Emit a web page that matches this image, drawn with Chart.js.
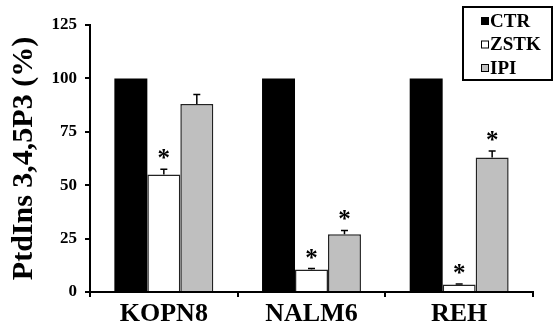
<!DOCTYPE html>
<html>
<head>
<meta charset="utf-8">
<script src="https://cdn.jsdelivr.net/npm/chart.js@4"></script>
<style>
  html, body { margin: 0; padding: 0; background: #fff; }
  #wrap { width: 555px; height: 333px; }
</style>
</head>
<body>
<div id="wrap"><canvas id="ptd-chart"></canvas></div>
<script>
const categories = ['KOPN8', 'NALM6', 'REH'];
const seriesNames = ['CTR', 'ZSTK', 'IPI'];
const ctrValues = [100, 100, 100];
const zstkValues = [55, 10.5, 3.5];
const ipiValues = [88, 27, 63];
const ctrErrors = [0, 0, 0];
const zstkErrors = [2.5, 0.5, 0.3];
const ipiErrors = [4.5, 1.8, 3];
const zstkStars = [true, true, true];
const ipiStars = [false, true, true];
const yTicks = [0, 25, 50, 75, 100, 125];

const serif = "'Liberation Serif', 'Times New Roman', serif";
const colors = ['#000000', '#ffffff', '#bfbfbf'];

// error bars (upward only), asterisks and the boxed legend
const extras = {
    id: 'extras',
    afterDatasetsDraw(chart) {
        const ctx = chart.ctx;
        const y = chart.scales.y;
        const errs = [ctrErrors, zstkErrors, ipiErrors];
        const stars = [null, zstkStars, ipiStars];
        ctx.save();
        ctx.strokeStyle = '#000';
        ctx.lineWidth = 1.5;
        errs.forEach((errList, di) => {
            const meta = chart.getDatasetMeta(di);
            meta.data.forEach((bar, i) => {
                const v = chart.data.datasets[di].data[i];
                let top = y.getPixelForValue(v);
                if (errList[i] > 0) {
                    const yTop = y.getPixelForValue(v + errList[i]);
                    ctx.beginPath();
                    ctx.moveTo(bar.x, top);
                    ctx.lineTo(bar.x, yTop);
                    ctx.moveTo(bar.x - 3.5, yTop);
                    ctx.lineTo(bar.x + 3.5, yTop);
                    ctx.stroke();
                    top = yTop;
                }
                if (stars[di] && stars[di][i]) {
                    ctx.fillStyle = '#000';
                    ctx.font = 'bold 25px ' + serif;
                    ctx.textAlign = 'center';
                    ctx.textBaseline = 'alphabetic';
                    ctx.fillText('*', bar.x, top - 3);
                }
            });
        });
        ctx.restore();
    },
    afterDraw(chart) {
        const ctx = chart.ctx;
        const box = { x: 463, y: 7, w: 89, h: 73 };
        ctx.save();
        ctx.strokeStyle = '#000';
        ctx.lineWidth = 2;
        ctx.strokeRect(box.x, box.y, box.w, box.h);
        ctx.font = 'bold 19px ' + serif;
        ctx.textBaseline = 'middle';
        ctx.textAlign = 'left';
        seriesNames.forEach((name, i) => {
            const cy = box.y + 14 + i * 23.5;
            ctx.fillStyle = colors[i];
            ctx.fillRect(481, cy - 4, 8, 8);
            ctx.strokeStyle = '#000';
            ctx.lineWidth = 1;
            ctx.strokeRect(481.5, cy - 3.5, 7, 7);
            ctx.fillStyle = '#000';
            ctx.fillText(name, 490, cy + 1);
        });
        ctx.restore();
    }
};

new Chart(document.getElementById('ptd-chart'), {
    type: 'bar',
    data: {
        labels: categories,
        datasets: [
            { label: seriesNames[0], data: ctrValues, backgroundColor: colors[0], borderColor: '#000', borderWidth: 0 },
            { label: seriesNames[1], data: zstkValues, backgroundColor: colors[1], borderColor: '#222', borderWidth: 1.5 },
            { label: seriesNames[2], data: ipiValues, backgroundColor: colors[2], borderColor: '#222', borderWidth: 1.5 }
        ]
    },
    options: {
        responsive: true,
        maintainAspectRatio: false,
        animation: false,
        layout: { padding: { top: 25, right: 22, left: 0, bottom: 0 } },
        datasets: {
            bar: { categoryPercentage: 0.67, barPercentage: 1.0 }
        },
        plugins: {
            legend: { display: false },
            tooltip: { enabled: false }
        },
        scales: {
            x: {
                grid: { display: true, drawOnChartArea: false, drawTicks: true, tickLength: 5, offset: true, color: '#000', lineWidth: 2 },
                border: { display: true, color: '#000', width: 2 },
                ticks: { color: '#000', font: { family: serif, size: 26, weight: 'bold' }, padding: 2 },
                afterFit(scale) { scale.height = 41; }
            },
            y: {
                min: 0,
                max: 125,
                afterBuildTicks(scale) { scale.ticks = yTicks.map(v => ({ value: v })); },
                grid: { display: true, drawOnChartArea: false, drawTicks: true, tickLength: 5, color: '#000', lineWidth: 2 },
                border: { display: true, color: '#000', width: 2 },
                ticks: { color: '#000', font: { family: serif, size: 17, weight: 'bold' }, padding: 8 },
                title: {
                    display: true,
                    text: 'PtdIns 3,4,5P3 (%)',
                    color: '#000',
                    font: { family: serif, size: 30, weight: 'bold' },
                    padding: { top: 6, bottom: 4 }
                },
                afterFit(scale) { scale.width = 90; }
            }
        }
    },
    plugins: [extras]
});
</script>
</body>
</html>
